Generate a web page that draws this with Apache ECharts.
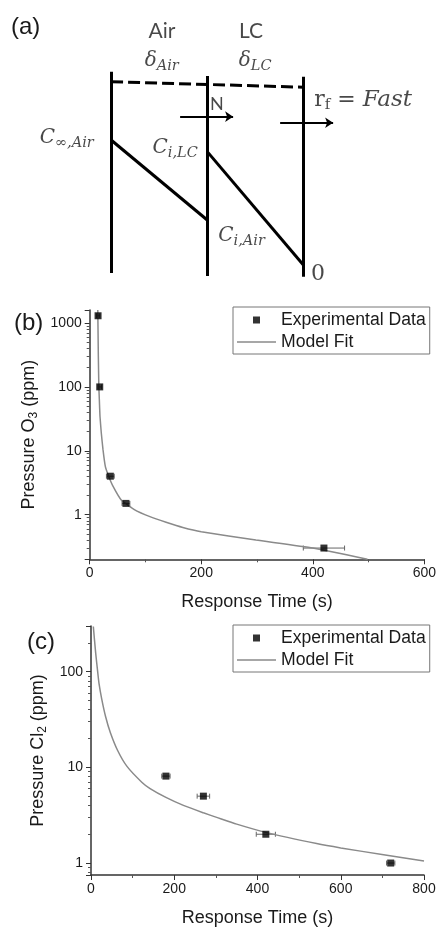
<!DOCTYPE html>
<html>
<head>
<meta charset="utf-8">
<script src="https://cdn.jsdelivr.net/npm/echarts@6/dist/echarts.min.js"></script>
<style>
html, body { margin: 0; padding: 0; background: #fff; }
#main { width: 439px; height: 928px; }
</style>
</head>
<body>
<div id="main"></div>
<script>
// (b) ozone
var o3Time = [15, 18, 37, 65, 420];
var o3Ppm = [1300, 100, 4, 1.5, 0.3];
var o3TimeErr = [3, 3, 7, 7, 37];
var o3FitTime = [14.5, 15.5, 16.4, 17.3, 18.4, 20.8, 23.8, 28, 34, 41.7, 56.6, 80, 108, 137, 167, 200, 298, 400, 498];
var o3FitPpm = [1600, 300, 100, 63, 35, 19, 10.5, 5.7, 4.0, 2.8, 1.7, 1.2, 0.93, 0.76, 0.63, 0.54, 0.40, 0.30, 0.2];
var o3Ticks = [1, 10, 100, 1000];

// (c) chlorine
var cl2Time = [180, 270, 420, 720];
var cl2Ppm = [8.1, 5.0, 2.0, 1.0];
var cl2TimeErr = [10, 15, 23, 10];
var cl2FitTime = [5.6, 11.2, 16, 19.3, 25.7, 35, 46.6, 64, 86, 122, 142, 180, 222, 270, 302, 350, 422, 542, 600, 703, 800];
var cl2FitPpm = [296, 157, 100, 75, 52, 34, 23, 15, 10.3, 7.0, 6.0, 4.85, 4.0, 3.35, 3.0, 2.55, 2.08, 1.6, 1.44, 1.22, 1.05];
var cl2Ticks = [1, 10, 100];

// (a) sketch: x = interface index, y = relative concentration
var wallX = [0, 1, 2];
var wallTop = [1.543, 1.509, 1.503];
var wallBottom = [-0.064, -0.088, -0.094];
var airProfile = [[0, 0.998], [1, 0.359]];
var lcProfile = [[1, 0.905], [2, 0]];
var filmEdge = [[0, 1.464], [2, 1.419]];
var fluxArrow = [[0.718, 1.184], [1.269, 1.184]];
var rateArrow = [[1.758, 1.136], [2.309, 1.136]];
var sketchText = ['{t|Air}', '{t|LC}', '{g|δ}{s|Air}', '{g|δ}{s|LC}', '{n|N}',
  '{r|r}{rs|f}{r| = }{f|Fast}', '{g|C}{s|∞,Air}', '{g|C}{s|i,LC}', '{g|C}{s|i,Air}', '{r|0}'];
var sketchTextX = [0.530, 1.456, 0.527, 1.498, 1.100, 2.621, -0.461, 0.666, 1.357, 2.153];
var sketchTextY = [1.863, 1.863, 1.629, 1.629, 1.285, 1.317, 1.014, 0.934, 0.231, -0.072];

var sans = 'Liberation Sans';
var ink = '#1a1a1a';
var fitGrey = '#8a8a8a';

function pairs(xs, ys) {
  return xs.map(function (x, i) { return [x, ys[i]]; });
}
function triples(xs, ys, es) {
  return xs.map(function (x, i) { return [x, ys[i], es[i]]; });
}
function decadeLabel(ticks) {
  return function (v) {
    for (var i = 0; i < ticks.length; i++) {
      if (Math.abs(v - ticks[i]) < ticks[i] * 1e-6) return String(ticks[i]);
    }
    return '';
  };
}
function errorBar(params, api) {
  var x = api.value(0), y = api.value(1), e = api.value(2);
  var a = api.coord([x - e, y]);
  var b = api.coord([x + e, y]);
  var st = { stroke: '#666', lineWidth: 1 };
  return {
    type: 'group',
    children: [
      { type: 'line', shape: { x1: a[0], y1: a[1], x2: b[0], y2: b[1] }, style: st },
      { type: 'line', shape: { x1: a[0], y1: a[1] - 2.5, x2: a[0], y2: a[1] + 2.5 }, style: st },
      { type: 'line', shape: { x1: b[0], y1: b[1] - 2.5, x2: b[0], y2: b[1] + 2.5 }, style: st }
    ]
  };
}

function xAxisFor(idx, max) {
  return {
    gridIndex: idx, type: 'value', min: 0, max: max, interval: 200,
    name: 'Response Time (s)', nameLocation: 'middle', nameGap: 34,
    nameTextStyle: { fontFamily: sans, fontSize: 18, color: ink },
    axisLine: { lineStyle: { color: '#333', width: 1.5 } },
    axisTick: { show: true, length: 5, lineStyle: { color: '#333' } },
    minorTick: { show: true, splitNumber: 2, length: 3, lineStyle: { color: '#555' } },
    axisLabel: { fontFamily: sans, fontSize: 14, color: ink, margin: 7 },
    splitLine: { show: false }
  };
}
function yAxisFor(idx, min, max, ticks, gas, gap) {
  return {
    gridIndex: idx, type: 'log', logBase: 10, min: min, max: max,
    name: '{a|Pressure ' + gas[0] + '}{b|' + gas[1] + '}{a| (ppm)}',
    nameLocation: 'middle', nameGap: gap,
    nameTextStyle: {
      rich: {
        a: { fontFamily: sans, fontSize: 18, color: ink },
        b: { fontFamily: sans, fontSize: 12, color: ink, padding: [9, 0, 0, 0] }
      }
    },
    axisLine: { show: true, lineStyle: { color: '#333', width: 1.5 } },
    axisTick: { show: true, length: 5, lineStyle: { color: '#333' } },
    minorTick: { show: true, splitNumber: 9, length: 3, lineStyle: { color: '#555' } },
    axisLabel: { fontFamily: sans, fontSize: 14, color: ink, formatter: decadeLabel(ticks) },
    splitLine: { show: false }
  };
}
function legendAt(top) {
  return {
    data: [
      { name: 'Experimental Data', icon: 'path://M0,0L10,0L10,10L0,10Z' },
      { name: 'Model Fit', icon: 'path://M0,0L39,0L39,1.4L0,1.4Z' }
    ],
    orient: 'vertical', left: 233, top: top, padding: [4, 4, 3, 4],
    itemWidth: 39, itemHeight: 7, itemGap: 4, symbolKeepAspect: true,
    borderColor: '#777', borderWidth: 1, selectedMode: false,
    textStyle: { fontFamily: sans, fontSize: 17.6, color: ink }
  };
}

var chart = echarts.init(document.getElementById('main'));
chart.setOption({
  animation: false,
  backgroundColor: '#fff',
  title: [
    { text: '(a)', left: 11, top: 15, padding: 0, textStyle: { fontFamily: sans, fontSize: 24, fontWeight: 'normal', color: ink } },
    { text: '(b)', left: 14, top: 311, padding: 0, textStyle: { fontFamily: sans, fontSize: 24, fontWeight: 'normal', color: ink } },
    { text: '(c)', left: 27, top: 630, padding: 0, textStyle: { fontFamily: sans, fontSize: 24, fontWeight: 'normal', color: ink } }
  ],
  legend: [legendAt(307), legendAt(625)],
  grid: [
    { left: 89.7, right: 13.3, top: 310, height: 249.3 },
    { left: 91, right: 15, top: 626, height: 250.7 },
    { left: 0, right: 0, top: 2, height: 288 }
  ],
  xAxis: [
    xAxisFor(0, 600),
    xAxisFor(1, 800),
    { gridIndex: 2, type: 'value', min: -1.155, max: 3.41, show: false }
  ],
  yAxis: [
    yAxisFor(0, 0.2, 1600, o3Ticks, ['O', '3'], 43),
    yAxisFor(1, 0.75, 300, cl2Ticks, ['Cl', '2'], 34),
    { gridIndex: 2, type: 'value', min: -0.2, max: 2.1, show: false }
  ],
  series: [
    {
      name: 'Model Fit', type: 'line', xAxisIndex: 0, yAxisIndex: 0,
      data: pairs(o3FitTime, o3FitPpm), showSymbol: false, symbol: 'none', smooth: 0.15,
      lineStyle: { color: fitGrey, width: 1.5 }, itemStyle: { color: fitGrey }
    },
    {
      type: 'custom', xAxisIndex: 0, yAxisIndex: 0, renderItem: errorBar,
      data: triples(o3Time, o3Ppm, o3TimeErr), encode: { x: 0, y: 1 }, z: 3
    },
    {
      name: 'Experimental Data', type: 'scatter', xAxisIndex: 0, yAxisIndex: 0,
      data: pairs(o3Time, o3Ppm), symbol: 'rect', symbolSize: 7,
      itemStyle: { color: '#000' }, z: 4
    },
    {
      name: 'Model Fit', type: 'line', xAxisIndex: 1, yAxisIndex: 1,
      data: pairs(cl2FitTime, cl2FitPpm), showSymbol: false, symbol: 'none', smooth: 0.2,
      lineStyle: { color: fitGrey, width: 1.5 }, itemStyle: { color: fitGrey }
    },
    {
      type: 'custom', xAxisIndex: 1, yAxisIndex: 1, renderItem: errorBar,
      data: triples(cl2Time, cl2Ppm, cl2TimeErr), encode: { x: 0, y: 1 }, z: 3
    },
    {
      name: 'Experimental Data', type: 'scatter', xAxisIndex: 1, yAxisIndex: 1,
      data: pairs(cl2Time, cl2Ppm), symbol: 'rect', symbolSize: 7,
      itemStyle: { color: '#000' }, z: 4
    },
    // sketch
    {
      type: 'lines', coordinateSystem: 'cartesian2d', xAxisIndex: 2, yAxisIndex: 2, silent: true,
      data: wallX.map(function (x, i) { return { coords: [[x, wallBottom[i]], [x, wallTop[i]]] }; })
        .concat([{ coords: airProfile }, { coords: lcProfile }]),
      lineStyle: { color: '#000', width: 3, opacity: 1 }
    },
    {
      type: 'lines', coordinateSystem: 'cartesian2d', xAxisIndex: 2, yAxisIndex: 2, silent: true,
      data: [{ coords: filmEdge }],
      lineStyle: { color: '#000', width: 3, type: [12, 5], opacity: 1 }
    },
    {
      type: 'lines', coordinateSystem: 'cartesian2d', xAxisIndex: 2, yAxisIndex: 2, silent: true,
      data: [{ coords: fluxArrow }, { coords: rateArrow }],
      symbol: ['none', 'arrow'], symbolSize: 8,
      lineStyle: { color: '#000', width: 1.8, opacity: 1 }
    },
    {
      type: 'scatter', xAxisIndex: 2, yAxisIndex: 2, silent: true,
      data: pairs(sketchTextX, sketchTextY), symbolSize: 1,
      itemStyle: { color: 'rgba(0,0,0,0)' },
      label: {
        show: true, position: 'inside', color: ink,
        formatter: function (p) { return sketchText[p.dataIndex]; },
        rich: {
          t: { fontFamily: 'Lato', fontSize: 21, color: ink },
          n: { fontFamily: 'Lato', fontSize: 18, color: ink },
          g: { fontFamily: 'DejaVu Serif', fontStyle: 'italic', fontSize: 20, color: ink },
          s: { fontFamily: 'DejaVu Serif', fontStyle: 'italic', fontSize: 14.5, color: ink, padding: [10, 0, 0, 0] },
          r: { fontFamily: 'DejaVu Serif', fontSize: 22, color: ink },
          rs: { fontFamily: 'DejaVu Serif', fontSize: 15, color: ink, padding: [10, 0, 0, 0] },
          f: { fontFamily: 'DejaVu Serif', fontStyle: 'italic', fontSize: 23, color: ink }
        }
      }
    }
  ]
});
</script>
</body>
</html>
